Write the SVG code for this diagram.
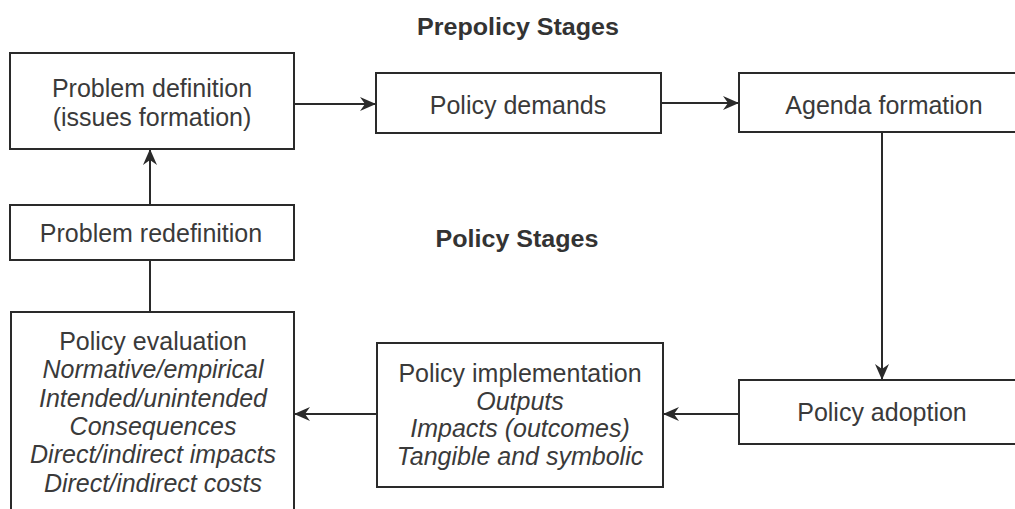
<svg xmlns="http://www.w3.org/2000/svg" width="1015" height="509" viewBox="0 0 1015 509">
  <style>
    .box { fill: #ffffff; stroke: #2a2a2a; stroke-width: 2; }
    .t { font-family: "Liberation Sans", Arial, sans-serif; font-size: 25px; fill: #3a3a3a; text-anchor: middle; }
    .i { font-style: italic; }
    .h { font-family: "Liberation Sans", Arial, sans-serif; font-size: 23px; font-weight: bold; fill: #333333; text-anchor: middle; }
    .c { stroke: #2a2a2a; stroke-width: 2; fill: none; }
  </style>
  <defs>
    <marker id="ah" markerUnits="userSpaceOnUse" markerWidth="18" markerHeight="16" refX="16" refY="7" orient="auto">
      <path d="M0,0 L16,7 L0,14 L5,7 z" fill="#2a2a2a"/>
    </marker>
  </defs>
  <rect width="1015" height="509" fill="#ffffff"/>

  <text class="h" x="518" y="35" textLength="202" lengthAdjust="spacingAndGlyphs">Prepolicy Stages</text>
  <text class="h" x="517" y="247" textLength="163" lengthAdjust="spacingAndGlyphs">Policy Stages</text>

  <g id="connectors">
    <line class="c" x1="294" y1="104" x2="376" y2="104" marker-end="url(#ah)"/>
    <line class="c" x1="661" y1="103" x2="739" y2="103" marker-end="url(#ah)"/>
    <line class="c" x1="882" y1="132" x2="882" y2="380" marker-end="url(#ah)"/>
    <line class="c" x1="739" y1="414" x2="663" y2="414" marker-end="url(#ah)"/>
    <line class="c" x1="377" y1="414" x2="294" y2="414" marker-end="url(#ah)"/>
    <line class="c" x1="150" y1="312" x2="150" y2="260"/>
    <line class="c" x1="150" y1="205" x2="150" y2="149" marker-end="url(#ah)"/>
  </g>

  <g id="problem-definition">
    <rect class="box" x="10" y="53" width="284" height="96"/>
    <text class="t" x="152" y="97">Problem definition</text>
    <text class="t" x="152" y="126">(issues formation)</text>
  </g>

  <g id="policy-demands">
    <rect class="box" x="376" y="73" width="285" height="60"/>
    <text class="t" x="518" y="114">Policy demands</text>
  </g>

  <g id="agenda-formation">
    <rect class="box" x="739" y="73" width="290" height="59"/>
    <text class="t" x="884" y="114">Agenda formation</text>
  </g>

  <g id="problem-redefinition">
    <rect class="box" x="10" y="205" width="284" height="55"/>
    <text class="t" x="151" y="242">Problem redefinition</text>
  </g>

  <g id="policy-evaluation">
    <rect class="box" x="11" y="312" width="283" height="210"/>
    <text class="t" x="153" y="350">Policy evaluation</text>
    <text class="t i" x="153" y="378">Normative/empirical</text>
    <text class="t i" x="153" y="407">Intended/unintended</text>
    <text class="t i" x="153" y="435">Consequences</text>
    <text class="t i" x="153" y="463">Direct/indirect impacts</text>
    <text class="t i" x="153" y="492">Direct/indirect costs</text>
  </g>

  <g id="policy-implementation">
    <rect class="box" x="377" y="343" width="286" height="144"/>
    <text class="t" x="520" y="382">Policy implementation</text>
    <text class="t i" x="520" y="410">Outputs</text>
    <text class="t i" x="520" y="437">Impacts (outcomes)</text>
    <text class="t i" x="520" y="465">Tangible and symbolic</text>
  </g>

  <g id="policy-adoption">
    <rect class="box" x="739" y="380" width="290" height="64"/>
    <text class="t" x="882" y="421">Policy adoption</text>
  </g>
</svg>
